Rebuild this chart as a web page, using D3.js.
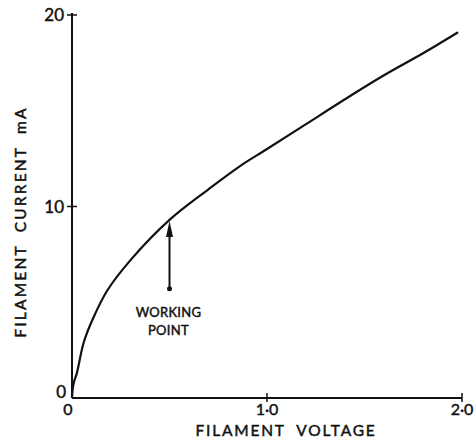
<!DOCTYPE html>
<html><head><meta charset="utf-8">
<script src="https://cdn.jsdelivr.net/npm/d3@7"></script>
<style>body{margin:0;background:#fff}svg{display:block}text{font-family:Lato,"DejaVu Sans",sans-serif;fill:#111;stroke:#111;stroke-width:0.45}</style>
</head><body>
<script>
const voltage = [0, 0.004, 0.012, 0.025, 0.06, 0.11, 0.18, 0.3, 0.5, 0.7, 0.86, 1.0, 1.2, 1.4, 1.6, 1.8, 1.98];
const current = [0, 0.5, 0.9, 1.3, 2.9, 4.2, 5.6, 7.2, 9.3, 10.9, 12.1, 13.0, 14.3, 15.6, 16.85, 18.0, 19.1];
const xTicks = [0, 1, 2];
const xTickLabels = ["0", "1·0", "2·0"];
const yTicks = [0, 10, 20];
const yTickLabels = ["0", "10", "20"];
const workingPoint = {v: 0.5, i: 9.3, base: 5.7, label: ["WORKING", "POINT"]};
const xTitle = "FILAMENT  VOLTAGE";
const yTitle = "FILAMENT  CURRENT  mA";

const W = 476, H = 441;
const svg = d3.select("body").append("svg").attr("width", W).attr("height", H);
const x = d3.scaleLinear().domain([0, 2]).range([72, 462]);
const y = d3.scaleLinear().domain([0, 20]).range([398, 15]);
const ink = "#111";

// axes lines
svg.append("line").attr("x1", x(0)).attr("x2", x(2)).attr("y1", y(0)).attr("y2", y(0)).attr("stroke", ink).attr("stroke-width", 2);
svg.append("line").attr("x1", x(0)).attr("x2", x(0)).attr("y1", y(0)).attr("y2", y(20) - 2).attr("stroke", ink).attr("stroke-width", 2);

// ticks (crossing the axes)
xTicks.slice(1).forEach((t) => {
  svg.append("line").attr("x1", x(t)).attr("x2", x(t)).attr("y1", y(0) - 5).attr("y2", y(0) + 4).attr("stroke", ink).attr("stroke-width", 1.5);
});
yTicks.slice(1).forEach((t) => {
  svg.append("line").attr("x1", x(0) - 5).attr("x2", x(0) + 5).attr("y1", y(t)).attr("y2", y(t)).attr("stroke", ink).attr("stroke-width", 1.5);
});

// tick labels
xTicks.forEach((t, k) => {
  svg.append("text").attr("x", k === 0 ? x(t) - 4 : x(t)).attr("y", y(0) + 17)
    .attr("text-anchor", "middle").attr("font-size", 16).text(xTickLabels[k]);
});
yTicks.forEach((t, k) => {
  svg.append("text").attr("x", k === 0 ? x(0) - 6 : x(0) - 8).attr("y", y(t) + (k === 0 ? 0 : 6))
    .attr("text-anchor", "end").attr("font-size", 17).text(yTickLabels[k]);
});

// titles
svg.append("text").attr("x", 286).attr("y", 436).attr("text-anchor", "middle")
  .attr("font-size", 15.5).attr("letter-spacing", 1.8).style("white-space", "pre").text(xTitle);
svg.append("text").attr("transform", "translate(26,222) rotate(-90)").attr("text-anchor", "middle")
  .attr("font-size", 15.5).attr("letter-spacing", 2.2).style("white-space", "pre").text(yTitle);

// curve
const pts = voltage.map((v, k) => [v, current[k]]);
svg.append("path").datum(pts)
  .attr("d", d3.line().x(d => x(d[0])).y(d => y(d[1])).curve(d3.curveCatmullRom.alpha(0.5)))
  .attr("fill", "none").attr("stroke", ink).attr("stroke-width", 2.2);

// working point arrow
const ax = x(workingPoint.v), tipY = y(workingPoint.i) + 1, baseY = y(workingPoint.base);
svg.append("line").attr("x1", ax).attr("x2", ax).attr("y1", baseY).attr("y2", tipY + 12).attr("stroke", ink).attr("stroke-width", 2);
svg.append("path").attr("d", `M${ax},${tipY} L${ax - 3.5},${tipY + 16} L${ax + 3.5},${tipY + 16} Z`).attr("fill", ink);
svg.append("circle").attr("cx", ax).attr("cy", baseY).attr("r", 2.5).attr("fill", ink);
workingPoint.label.forEach((s, k) => {
  svg.append("text").attr("x", ax - 1).attr("y", 317 + k * 18).attr("text-anchor", "middle")
    .attr("font-size", 13).attr("letter-spacing", 0.3).text(s);
});
</script>
</body></html>
